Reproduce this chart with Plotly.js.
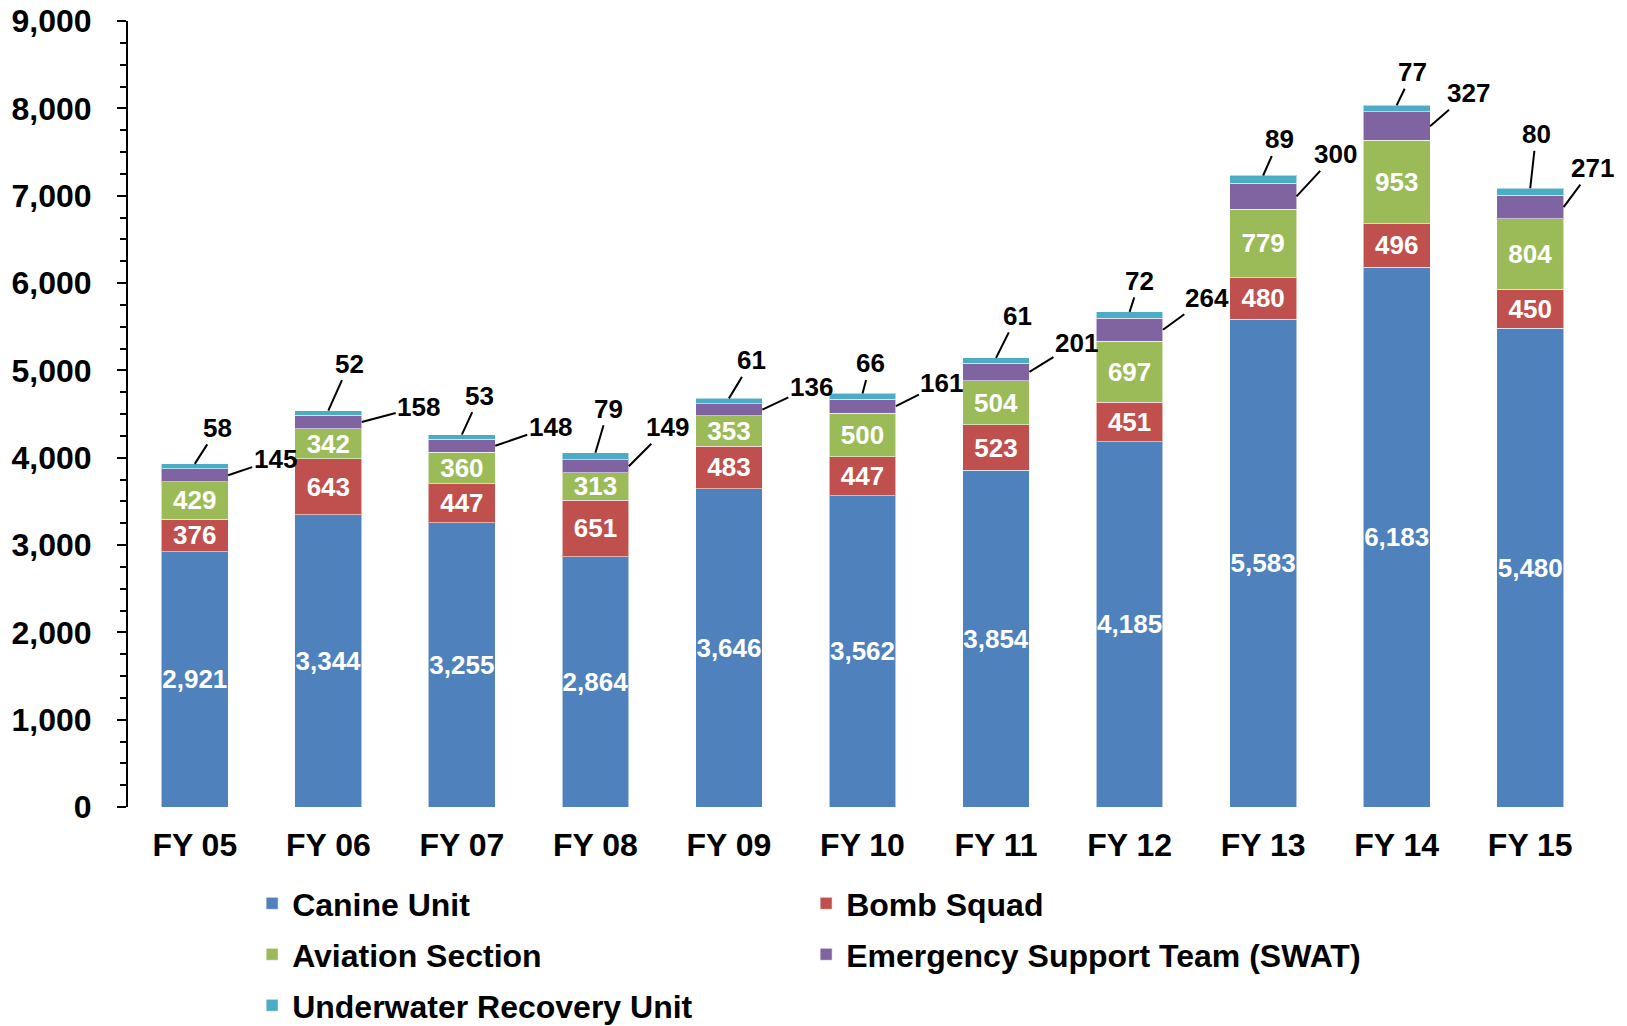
<!DOCTYPE html>
<html>
<head>
<meta charset="utf-8">
<script src="https://cdn.plot.ly/plotly-3.0.1.min.js"></script>
<style>html,body{margin:0;padding:0;background:#fff;}#chart{width:1627px;height:1026px;}</style>
</head>
<body>
<div id="chart"></div>
<script>
// ---- data ----
const years = ["FY 05","FY 06","FY 07","FY 08","FY 09","FY 10","FY 11","FY 12","FY 13","FY 14","FY 15"];
const canine = [2921,3344,3255,2864,3646,3562,3854,4185,5583,6183,5480];
const bomb = [376,643,447,651,483,447,523,451,480,496,450];
const aviation = [429,342,360,313,353,500,504,697,779,953,804];
const swat = [145,158,148,149,136,161,201,264,300,327,271];
const underwater = [58,52,53,79,61,66,61,72,89,77,80];
const seriesNames = ["Canine Unit","Bomb Squad","Aviation Section","Emergency Support Team (SWAT)","Underwater Recovery Unit"];
const yTicks = [0,1000,2000,3000,4000,5000,6000,7000,8000,9000];

// ---- layout-only label offsets (pixels) ----
const uwOffX = [23,21,18,13,23,8,21,10,16,16,6];
const uwOffY = [-36,-47,-39,-44,-38,-30,-42,-31,-36,-33,-54];
const swOffX = [47,57,55,39,49,46,47,44,39,38,29];
const swOffY = [-16,-15,-19,-39,-23,-23,-29,-32,-42,-33,-39];

const colors = ["#4F81BD","#C0504D","#9BBB59","#8064A2","#4BACC6"];
const legendRefs = ["legend","legend","legend2","legend2","legend3"];
const FONT = "Liberation Sans, Arial, sans-serif";
const bargap = 0.5;
const halfBar = (1 - bargap) / 2;

function barTrace(vals, i, showText, fmt) {
  const t = {
    type: "bar", x: years, y: vals, name: seriesNames[i], legend: legendRefs[i],
    marker: {color: colors[i], line: {color: "rgba(255,255,255,0.55)", width: 1}},
    hoverinfo: "skip"
  };
  if (showText) {
    t.texttemplate = fmt;
    t.textposition = "inside";
    t.insidetextanchor = "middle";
    t.textangle = 0;
    t.constraintext = "none";
    t.textfont = {family: FONT, size: 26, color: "#ffffff", weight: "bold"};
  } else {
    t.textposition = "none";
  }
  return t;
}

const data = [
  barTrace(canine, 0, true, "%{y:,}"),
  barTrace(bomb, 1, true, "%{y}"),
  barTrace(aviation, 2, true, "%{y}"),
  barTrace(swat, 3, false),
  barTrace(underwater, 4, false)
];

const annotations = [];
years.forEach((yr, i) => {
  const base3 = canine[i] + bomb[i] + aviation[i];
  const total = base3 + swat[i] + underwater[i];
  annotations.push({
    x: i, y: total, xref: "x", yref: "y",
    text: String(underwater[i]), showarrow: true, arrowhead: 0, arrowwidth: 2,
    arrowcolor: "#000", ax: uwOffX[i], ay: uwOffY[i], standoff: 0,
    font: {family: FONT, size: 26, color: "#000", weight: "bold"}
  });
  annotations.push({
    x: i + halfBar, y: base3 + swat[i] / 2, xref: "x", yref: "y",
    text: String(swat[i]), showarrow: true, arrowhead: 0, arrowwidth: 2,
    arrowcolor: "#000", ax: swOffX[i], ay: swOffY[i], standoff: 0,
    font: {family: FONT, size: 26, color: "#000", weight: "bold"}
  });
});

function legendRow(yc) {
  return {
    orientation: "h", x: 0.0845, xanchor: "left", yref: "container", y: yc, yanchor: "top",
    traceorder: "normal", entrywidth: 509, entrywidthmode: "pixels",
    font: {family: FONT, size: 32, color: "#000", weight: "bold"},
    bgcolor: "rgba(0,0,0,0)", itemclick: false
  };
}

const layout = {
  width: 1627, height: 1026,
  margin: {l: 128, r: 30, t: 21, b: 219, autoexpand: false},
  paper_bgcolor: "#fff", plot_bgcolor: "#fff",
  font: {family: FONT, size: 30, color: "#000", weight: "bold"},
  barmode: "stack", bargap: bargap,
  showlegend: true,
  legend: legendRow(0.1462),
  legend2: legendRow(0.0965),
  legend3: legendRow(0.0468),
  xaxis: {
    type: "category", range: [-0.5, 10.5], showline: false, ticks: "",
    showgrid: false, zeroline: false, ticklabelstandoff: 16, automargin: false,
    tickfont: {family: FONT, size: 32, color: "#000", weight: "bold"}
  },
  yaxis: {
    range: [0, 9000], tickvals: yTicks, ticktext: yTicks.map(v => v.toLocaleString("en-US")),
    showline: true, linecolor: "#000", linewidth: 2, automargin: false,
    ticks: "outside", ticklen: 9, tickwidth: 2, tickcolor: "#000",
    minor: {dtick: 250, ticks: "outside", ticklen: 6, tickwidth: 2, tickcolor: "#000", showgrid: false},
    showgrid: false, zeroline: false, ticklabelstandoff: 19,
    tickfont: {family: FONT, size: 32, color: "#000", weight: "bold"}
  },
  annotations: annotations
};

Plotly.newPlot("chart", data, layout, {displayModeBar: false, staticPlot: true});
</script>
</body>
</html>
